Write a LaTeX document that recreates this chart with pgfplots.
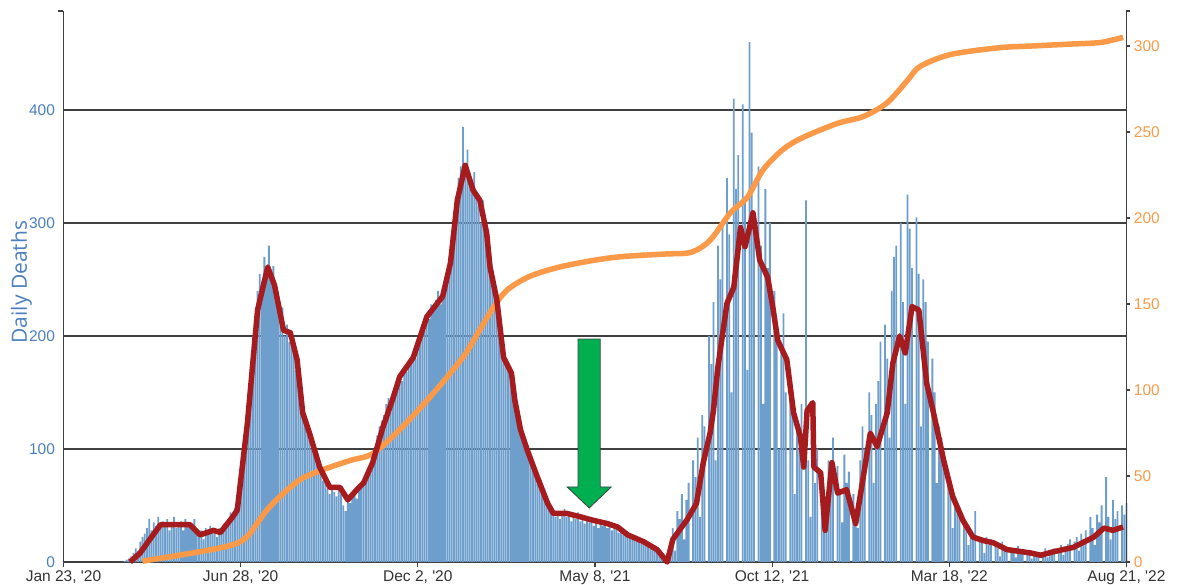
\documentclass[border=0pt]{standalone}
\usepackage{fontspec}
\setmainfont{Liberation Sans}
\newfontfamily\labelfont{Open Sans}
\usepackage{pgfplots}
\usepackage{pgfplotstable}
\pgfplotsset{compat=1.18}

\definecolor{barblue}{HTML}{6E9FCC}
\definecolor{tickblue}{HTML}{4A80BF}
\definecolor{avgred}{HTML}{A61C1E}
\definecolor{cumorange}{HTML}{FA9A48}
\definecolor{axgray}{HTML}{404040}
\definecolor{arrowgreen}{HTML}{00B050}

% daily deaths, every second day
\pgfplotstableread[row sep=\\]{
d v\\
50 0\\ 52 0\\ 54 1\\ 56 2\\ 58 3\\ 60 5\\ 62 8\\ 64 12\\ 66 10\\ 68 18\\
70 22\\ 72 25\\ 74 30\\ 76 38\\ 78 28\\ 80 35\\ 82 32\\ 84 40\\ 86 30\\ 88 36\\
90 33\\ 92 38\\ 94 28\\ 96 35\\ 98 40\\ 100 30\\ 102 34\\ 104 36\\ 106 28\\ 108 38\\
110 32\\ 112 35\\ 114 30\\ 116 38\\ 118 25\\ 120 22\\ 122 28\\ 124 20\\ 126 30\\ 128 26\\
130 32\\ 132 25\\ 134 28\\ 136 22\\ 138 30\\ 140 26\\ 142 34\\ 144 30\\ 146 38\\ 148 44\\
150 40\\ 152 48\\ 154 55\\ 156 70\\ 158 95\\ 160 110\\ 162 130\\ 164 150\\ 166 170\\ 168 200\\
170 215\\ 172 240\\ 174 255\\ 176 248\\ 178 270\\ 180 258\\ 182 280\\ 184 252\\ 186 262\\ 188 245\\
190 230\\ 192 215\\ 194 225\\ 196 200\\ 198 210\\ 200 195\\ 202 205\\ 204 185\\ 206 170\\ 208 160\\
210 145\\ 212 135\\ 214 125\\ 216 118\\ 218 108\\ 220 100\\ 222 95\\ 224 88\\ 226 82\\ 228 78\\
230 72\\ 232 70\\ 234 65\\ 236 60\\ 238 68\\ 240 62\\ 242 58\\ 244 66\\ 246 60\\ 248 50\\
250 45\\ 252 58\\ 254 52\\ 256 60\\ 258 62\\ 260 56\\ 262 65\\ 264 70\\ 266 68\\ 268 75\\
270 80\\ 272 88\\ 274 90\\ 276 100\\ 278 112\\ 280 120\\ 282 125\\ 284 130\\ 286 140\\ 288 145\\
290 135\\ 292 148\\ 294 150\\ 296 158\\ 298 165\\ 300 160\\ 302 172\\ 304 168\\ 306 178\\ 308 175\\
310 185\\ 312 180\\ 314 195\\ 316 200\\ 318 210\\ 320 205\\ 322 218\\ 324 215\\ 326 228\\ 328 222\\
330 232\\ 332 240\\ 334 228\\ 336 238\\ 338 248\\ 340 255\\ 342 270\\ 344 290\\ 346 310\\ 348 320\\
350 340\\ 352 350\\ 354 385\\ 356 345\\ 358 365\\ 360 340\\ 362 330\\ 364 345\\ 366 325\\ 368 315\\
370 300\\ 372 320\\ 374 290\\ 376 275\\ 378 260\\ 380 250\\ 382 235\\ 384 225\\ 386 205\\ 388 195\\
390 180\\ 392 175\\ 394 170\\ 396 165\\ 398 150\\ 400 140\\ 402 130\\ 404 120\\ 406 112\\ 408 105\\
410 100\\ 412 92\\ 414 88\\ 416 82\\ 418 78\\ 420 72\\ 422 68\\ 424 62\\ 426 58\\ 428 52\\
430 48\\ 432 45\\ 434 42\\ 436 40\\ 438 45\\ 440 38\\ 442 42\\ 444 47\\ 446 40\\ 448 44\\
450 36\\ 452 42\\ 454 38\\ 456 44\\ 458 36\\ 460 40\\ 462 34\\ 464 38\\ 466 35\\ 468 40\\
470 32\\ 472 36\\ 474 30\\ 476 34\\ 478 32\\ 480 36\\ 482 30\\ 484 34\\ 486 28\\ 488 32\\
490 30\\ 492 26\\ 494 30\\ 496 24\\ 498 26\\ 500 22\\ 502 25\\ 504 20\\ 506 22\\ 508 18\\
510 20\\ 512 16\\ 514 18\\ 516 14\\ 518 16\\ 520 12\\ 522 14\\ 524 10\\ 526 12\\ 528 8\\
530 6\\ 532 4\\ 534 2\\ 536 0\\ 538 15\\ 540 30\\ 542 10\\ 544 45\\ 546 38\\ 548 60\\
550 20\\ 552 55\\ 554 70\\ 556 0\\ 558 90\\ 560 75\\ 562 110\\ 564 40\\ 566 130\\ 568 120\\
570 0\\ 572 200\\ 574 175\\ 576 230\\ 578 90\\ 580 280\\ 582 250\\ 584 300\\ 586 0\\ 588 340\\
590 290\\ 592 150\\ 594 410\\ 596 330\\ 598 360\\ 600 0\\ 602 405\\ 604 320\\ 606 170\\ 608 460\\
610 380\\ 612 300\\ 614 0\\ 616 350\\ 618 280\\ 620 140\\ 622 330\\ 624 260\\ 626 300\\ 628 0\\
630 240\\ 632 200\\ 634 100\\ 636 190\\ 638 220\\ 640 150\\ 642 0\\ 644 170\\ 646 130\\ 648 60\\
650 120\\ 652 100\\ 654 140\\ 656 0\\ 658 320\\ 660 90\\ 662 40\\ 664 130\\ 666 70\\ 668 100\\
670 0\\ 672 60\\ 674 40\\ 676 30\\ 678 90\\ 680 75\\ 682 110\\ 684 0\\ 686 85\\ 688 60\\
690 35\\ 692 95\\ 694 70\\ 696 80\\ 698 0\\ 700 60\\ 702 45\\ 704 30\\ 706 90\\ 708 120\\
710 100\\ 712 0\\ 714 150\\ 716 130\\ 718 70\\ 720 140\\ 722 160\\ 724 195\\ 726 0\\ 728 210\\
730 180\\ 732 110\\ 734 240\\ 736 270\\ 738 280\\ 740 0\\ 742 300\\ 744 230\\ 746 140\\ 748 325\\
750 295\\ 752 260\\ 754 0\\ 756 305\\ 758 255\\ 760 120\\ 762 250\\ 764 230\\ 766 195\\ 768 0\\
770 180\\ 772 150\\ 774 70\\ 776 120\\ 778 110\\ 780 95\\ 782 0\\ 784 80\\ 786 70\\ 788 30\\
790 55\\ 792 48\\ 794 40\\ 796 0\\ 798 35\\ 800 30\\ 802 15\\ 804 28\\ 806 22\\ 808 45\\
810 0\\ 812 20\\ 814 18\\ 816 8\\ 818 22\\ 820 15\\ 822 20\\ 824 0\\ 826 14\\ 828 12\\
830 5\\ 832 18\\ 834 10\\ 836 12\\ 838 0\\ 840 9\\ 842 8\\ 844 4\\ 846 14\\ 848 7\\
850 8\\ 852 0\\ 854 6\\ 856 10\\ 858 3\\ 860 8\\ 862 5\\ 864 7\\ 866 0\\ 868 6\\
870 12\\ 872 4\\ 874 9\\ 876 8\\ 878 12\\ 880 0\\ 882 10\\ 884 15\\ 886 6\\ 888 13\\
890 16\\ 892 20\\ 894 0\\ 896 18\\ 898 22\\ 900 10\\ 902 25\\ 904 20\\ 906 28\\ 908 0\\
910 40\\ 912 30\\ 914 15\\ 916 42\\ 918 35\\ 920 50\\ 922 0\\ 924 75\\ 926 40\\ 928 20\\
930 55\\ 932 38\\ 934 45\\ 936 0\\ 938 50\\ 940 42\\ 942 52\\
}\daily

% cumulative deaths, right axis
\pgfplotstableread[row sep=\\]{
d c\\
70 0.5\\ 121 6\\ 150 10\\ 163 15\\ 180 30\\ 195 40\\ 210 48\\ 227 53\\ 254 59\\ 274 63\\
298 77\\ 325 96\\ 354 119\\ 369 135\\ 381 148\\ 393 158\\ 413 166\\ 443 172\\ 487 177\\ 532 179\\
556 180\\ 573 187\\ 591 203\\ 606 212\\ 620 228\\ 638 240\\ 656 247\\ 686 255\\ 709 259\\ 730 267\\
748 280\\ 759 288\\ 786 295\\ 830 299\\ 860 300\\ 890 301\\ 919 302\\ 939 305\\
}\cumul

\begin{document}
\begin{tikzpicture}[x=1pt,y=1pt]
\useasboundingbox (-63.5,-23) rectangle (1113.5,562);
\begin{axis}[
    scale only axis, width=1063pt, height=551pt,
    xmin=0, xmax=942, ymin=0, ymax=487.6,
    axis y line*=left, axis x line*=bottom,
    axis line style={draw=axgray, line width=1.3pt},
    xtick={0,157,314,471,628,785,942},
    xticklabels={{Jan 23, \textquotesingle20},{Jun 28, \textquotesingle20},{Dec 2, \textquotesingle20},
      {May 8, \textquotesingle21},{Oct 12, \textquotesingle21},{Mar 18, \textquotesingle22},{Aug 21, \textquotesingle22}},
    ytick={0,100,200,300,400},
    ymajorgrids, grid style={draw=axgray, line width=1.3pt},
    tick align=outside,
    x tick style={draw=axgray, line width=1.2pt}, major tick length=5pt,
    y tick style={draw=none},
    xticklabel style={font=\fontsize{15.5}{18}\selectfont, text=black!80},
    yticklabel style={font=\fontsize{15.5}{18}\selectfont, text=tickblue},
    tick label style={/pgf/number format/assume math mode=true},
    ylabel={Daily Deaths},
    ylabel style={font=\labelfont\fontsize{21}{25}\selectfont, text=tickblue,
      at={(axis description cs:-0.0395,0.508)}, anchor=center},
    clip=false,
]
\addplot[ybar, bar width=1.6, bar shift=0pt, fill=barblue, draw=none] table[x=d, y=v] {\daily};
\addplot[cumorange, line width=5.5pt, line join=round, smooth] table[x=d, y expr=\thisrow{c}*1.5223] {\cumul};
\addplot[avgred, line width=5.5pt, line join=round] coordinates {
(59,0)(68,8)(75,18)(86,33)(99,33)(112,33)(121,24)(133,28)(139,26)(150,40)(154,46)
(163,123)(172,223)(181,261)(187,245)(195,205)(201,203)(207,179)(212,132)(218,114)
(227,84)(236,66)(245,66)(252,55)(260,64)(266,70)(274,88)(283,119)(292,145)(298,164)
(310,181)(322,217)(336,235)(343,265)(349,320)(356,351)(363,329)(369,320)(375,291)
(378,261)(384,232)(390,181)(397,167)(400,143)(405,117)(411,99)(420,75)(429,52)(434,43)
(446,43)(458,40)(469,37)(482,34)(491,31)(500,24)(514,18)(526,11)(535,0)(540,20)(553,38)
(561,52)(567,88)(573,114)(576,134)(580,173)(585,208)(588,229)(594,243)(600,296)(604,279)
(611,309)(617,267)(624,252)(629,223)(633,196)(641,179)(647,132)(653,111)(656,84)(659,134)
(664,141)(665,84)(671,79)(675,28)(681,88)(686,61)(694,64)(702,34)(706,58)(715,114)
(721,102)(730,132)(735,176)(741,200)(746,185)(752,226)(758,223)(765,158)(771,132)
(780,90)(788,58)(797,37)(806,22)(815,19)(824,17)(836,11)(857,8)(866,6)(877,9)(895,13)
(913,22)(922,30)(930,28)(939,31)
};
\draw[fill=arrowgreen, draw=axgray, line width=0.8pt]
  (axis cs:456,197.3) -- (axis cs:475.6,197.3) -- (axis cs:475.6,66.4) -- (axis cs:485.4,66.4)
  -- (axis cs:465.9,47.8) -- (axis cs:446.3,66.4) -- (axis cs:456,66.4) -- cycle;
\draw[axgray, line width=1.2pt] (rel axis cs:0,1) -- ++(-5pt,0);
\end{axis}
\begin{axis}[
    scale only axis, width=1063pt, height=551pt,
    xmin=0, xmax=942, ymin=0, ymax=320.3,
    axis y line*=right, axis x line=none,
    axis line style={draw=axgray, line width=1.3pt},
    ytick={0,50,100,150,200,250,300},
    tick align=outside, major tick length=4pt,
    y tick style={draw=axgray, line width=1.2pt},
    yticklabel style={font=\fontsize{15.5}{18}\selectfont, text=cumorange},
    tick label style={/pgf/number format/assume math mode=true},
    clip=false,
]
\addplot[draw=none] coordinates {(0,0)};
\draw[axgray, line width=1.2pt] (rel axis cs:1,1) -- ++(4pt,0);
\end{axis}
\end{tikzpicture}
\end{document}
